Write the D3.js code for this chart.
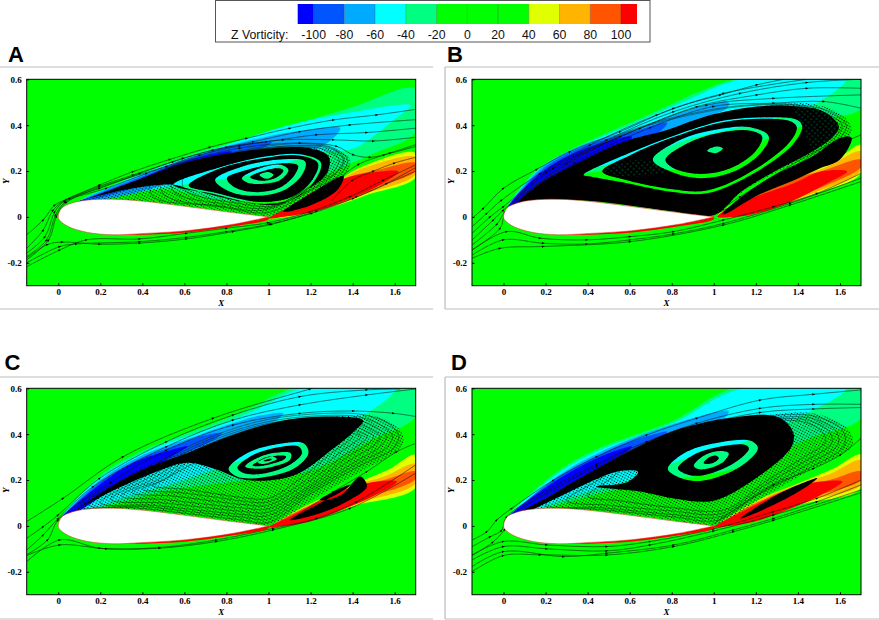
<!DOCTYPE html>
<html>
<head>
<meta charset="utf-8">
<script src="https://cdn.jsdelivr.net/npm/d3@7"></script>
<style>
  html, body { margin: 0; padding: 0; background: #fff; }
  svg { display: block; }
  .tick text { font-family: "Liberation Serif", serif; font-weight: bold; font-size: 9px; }
</style>
</head>
<body>
<svg id="chart" width="879" height="620"></svg>
<script>
// legend
const levels = [-100, -80, -60, -40, -20, 0, 20, 40, 60, 80, 100];
const levelColors = ["#0000ff", "#0055ff", "#00aaff", "#00ffff", "#00ff80", "#00ff00", "#00ff00", "#00ff00", "#e0ff00", "#ffb400", "#ff5500", "#ff0000"];
const xTicks = [0, 0.2, 0.4, 0.6, 0.8, 1, 1.2, 1.4, 1.6];
const yTicks = [-0.2, 0, 0.2, 0.4, 0.6];

// airfoil outline, tail -> upper surface -> nose -> lower surface -> tail
const airfoil = [[1, 0], [.8, .022], [.595, .047], [.405, .068], [.26, .077], [.135, .073], [.063, .06], [.016, .038], [0, 0], [.008, -.016], [.048, -.042], [.135, -.067], [.26, -.078], [.39, -.073], [.61, -.06], [.833, -.032], [1, 0]];
const lowerRed = [[1, 0], [.833, -.03], [.61, -.058], [.39, -.072], [.26, -.078], [.39, -.078], [.61, -.068], [.833, -.041], [1, -.01]];

// panel A
const aTeal = [[.087, .06], [.357, .176], [.675, .285], [.897, .336], [1.151, .408], [1.405, .481], [1.7, .557], [1.7, .372], [1.484, .27], [1.31, .2], [1.1, .1], [.8, .07], [.5, .12]];
const aCyan = [[.087, .06], [.357, .173], [.706, .285], [1.087, .398], [1.389, .455], [1.675, .485], [1.595, .423], [1.405, .299], [1.23, .28], [.95, .19], [.7, .155], [.45, .12]];
const aSky = [[.087, .06], [.357, .169], [.738, .292], [.992, .35], [1.151, .376], [1.341, .387], [1.246, .304], [.992, .278], [.675, .19], [.357, .103]];
const aRoyal = [[.087, .06], [.357, .161], [.675, .27], [.833, .31], [1.016, .326], [.944, .289], [.675, .212], [.357, .125]];
const aBlue = [[.087, .06], [.357, .154], [.595, .241], [.825, .285], [.754, .246], [.516, .183], [.278, .118], [.103, .067]];
const aYellow = [[1.008, -.006], [1.151, .009], [1.31, .045], [1.468, .096], [1.7, .173], [1.7, .278], [1.468, .227], [1.373, .183], [1.31, .132], [1.151, .06]];
const aOrange = [[1.03, 0], [1.151, .012], [1.31, .05], [1.468, .103], [1.7, .185], [1.7, .26], [1.468, .218], [1.373, .178], [1.31, .128], [1.151, .058]];
const aDark = [[1.03, 0], [1.151, .015], [1.31, .055], [1.5, .125], [1.7, .2], [1.7, .235], [1.5, .2], [1.389, .175], [1.31, .125], [1.151, .055]];
const aRed = [[1, -.006], [1.087, .038], [1.23, .118], [1.389, .176], [1.532, .198], [1.619, .198], [1.516, .132], [1.373, .074], [1.214, .023], [1.071, .001]];
const aHull = [[.087, .064], [.516, .198], [.833, .27], [1.087, .304], [1.23, .304], [1.325, .292], [1.389, .249], [1.357, .176], [1.214, .103], [1, .004], [.802, .025], [.595, .049], [.357, .071], [.135, .073]];
const aCore = [
  [[.103, .067], [.357, .154], [.595, .234], [.833, .28], [1.087, .304], [1.198, .299], [1.286, .263], [1.278, .19], [1.183, .118], [1.071, .06], [.992, .052], [.833, .074], [.611, .125], [.548, .14], [.357, .125], [.119, .074]],
  [[.548, .14], [.754, .212], [.992, .264], [1.151, .273], [1.249, .237], [1.222, .161], [1.127, .081], [.96, .057], [.738, .1]],
  [[.62, .137], [.754, .206], [.992, .258], [1.151, .267], [1.235, .234], [1.208, .161], [1.116, .089], [.96, .065], [.738, .107]],
  [[.746, .161], [.865, .217], [1.071, .251], [1.175, .241], [1.159, .183], [1.071, .115], [.944, .092], [.817, .11]],
  [[.802, .169], [.897, .205], [1.071, .234], [1.14, .224], [1.124, .183], [1.052, .127], [.944, .108], [.841, .128]],
  [[.873, .169], [.96, .212], [1.056, .227], [1.095, .205], [1.056, .161], [.968, .144], [.897, .15]],
  [[.913, .173], [.968, .198], [1.048, .212], [1.071, .202], [1.04, .173], [.968, .158]],
  [[.957, .183], [1, .196], [1.024, .183], [.992, .166]]
];
const aWake = [[[1.071, .023], [1.198, .1], [1.357, .178], [1.33, .12], [1.198, .05]]];
const aFuzz = [];
const aLoops = [
  [[.5, .1], [.8, .04], [1, .02], [1.2, .115], [1.345, .19], [1.375, .25], [1.31, .3], [1.15, .32], [.85, .285], [.5, .19]],
  [[.55, .11], [.8, .055], [1, .04], [1.2, .13], [1.33, .2], [1.355, .25], [1.3, .295], [1.15, .31], [.85, .28], [.55, .185]],
  [[.6, .12], [.85, .06], [1.03, .05], [1.21, .14], [1.31, .2], [1.335, .25], [1.28, .29], [1.13, .305], [.85, .275], [.6, .18]],
  [[.45, .09], [.75, .05], [.98, .03], [1.18, .11], [1.32, .19], [1.36, .25], [1.3, .3], [1.1, .31], [.8, .27], [.45, .18]]
];
const aLines = [
  [[-.15, -.078], [-.071, -.013], [-.016, .052], [.056, .081], [.198, .14], [.357, .198], [.532, .251], [.722, .304], [.897, .343], [1.103, .387], [1.31, .423], [1.516, .445], [1.7, .469]],
  [[-.15, -.137], [-.071, -.057], [-.024, .03], [.04, .077], [.198, .134], [.357, .183], [.548, .241], [.738, .292], [.929, .328], [1.151, .372], [1.389, .401], [1.7, .424]],
  [[-.15, -.158], [-.063, -.086], [-.016, .023], [.03, .07], [.198, .125], [.389, .19], [.595, .256], [.802, .304], [.992, .328], [1.23, .358], [1.468, .368], [1.7, .387]],
  [[-.15, -.173], [-.055, -.1], [-.012, .01], [.035, .066], [.23, .125], [.421, .19], [.675, .27], [.865, .31], [1.071, .336], [1.31, .336], [1.5, .331], [1.7, .347]],
  [[-.15, -.187], [-.045, -.1], [-.008, .004], [.04, .064], [.516, .22], [.865, .3], [1.151, .322], [1.325, .307], [1.405, .27], [1.484, .26], [1.579, .278], [1.7, .307]],
  [[-.15, -.217], [.008, -.144], [.135, -.1], [.389, -.096], [.611, -.071], [.802, -.049], [1, -.025], [1.198, .023], [1.389, .089], [1.548, .161], [1.7, .227]],
  [[-.15, -.2], [.008, -.129], [.087, -.118], [.389, -.108], [.611, -.089], [.802, -.064], [1.008, -.031], [1.206, .016], [1.405, .081], [1.563, .147], [1.7, .215]],
  [[-.15, -.18], [-.05, -.12], [.02, -.11], [.198, -.119], [.389, -.114], [.611, -.096], [.833, -.064], [1.016, -.032], [1.23, .026], [1.42, .088], [1.7, .2]],
  [[1.25, .07], [1.33, .16], [1.43, .23], [1.55, .27], [1.7, .315]],
  [[1.3, .07], [1.4, .16], [1.5, .2], [1.6, .235], [1.7, .26]]
];

// panel B
const bTeal = [[.016, .03], [.159, .205], [.333, .3], [.651, .43], [.968, .56], [1.111, .6], [1.7, .6], [1.7, .474], [1.5, .42], [1.25, .34], [1, .24], [.8, .205], [.65, .21], [.4, .19], [.1, .05]];
const bCyan = [[.016, .03], [.159, .2], [.333, .292], [.651, .42], [.9, .52], [1.13, .6], [1.627, .6], [1.444, .474], [1.3, .43], [1.1, .385], [.85, .33], [.7, .27], [.38, .2], [.15, .1]];
const bSky = [[.016, .03], [.175, .21], [.365, .31], [.651, .39], [.85, .455], [1.07, .5], [1.063, .474], [.9, .42], [.6, .3], [.3, .2]];
const bRoyal = [[.016, .03], [.175, .2], [.365, .3], [.611, .37], [.778, .41], [.74, .37], [.571, .31], [.365, .22], [.175, .13]];
const bBlue = [[.016, .03], [.175, .19], [.365, .29], [.611, .35], [.571, .31], [.365, .22], [.175, .13], [.03, .02]];
const bYellow = [[1.016, .001], [1.206, .118], [1.381, .176], [1.571, .241], [1.7, .314], [1.7, .19], [1.492, .103], [1.286, .045], [1.048, -.006]];
const bOrange = [[1.02, .001], [1.206, .115], [1.381, .173], [1.524, .212], [1.7, .285], [1.7, .202], [1.492, .11], [1.286, .05], [1.048, -.005]];
const bDark = [[1.02, .001], [1.206, .112], [1.381, .168], [1.508, .198], [1.7, .249], [1.7, .218], [1.5, .125], [1.286, .055], [1.048, -.004]];
const bRed = [[1.016, .001], [1.159, .074], [1.381, .147], [1.508, .198], [1.635, .198], [1.54, .147], [1.349, .06], [1.175, .009], [1.048, -.003]];
const bHull = [[.016, .023], [.175, .147], [.365, .241], [.571, .328], [.778, .379], [.968, .44], [1.206, .481], [1.444, .496], [1.587, .459], [1.654, .394], [1.643, .35], [1.492, .278], [1.286, .19], [1.127, .103], [1, .004], [.8, .025], [.6, .05], [.4, .07], [.2, .075], [.06, .06]];
const bCore = [
  [[.016, .023], [.175, .147], [.365, .241], [.571, .328], [.778, .379], [.968, .44], [1.206, .481], [1.381, .484], [1.524, .459], [1.595, .394], [1.563, .345], [1.444, .272], [1.286, .197], [1.127, .108], [1, .008], [.8, .025], [.6, .05], [.4, .07], [.2, .073], [.06, .06]],
  [[.381, .183], [.587, .274], [.81, .354], [1.048, .42], [1.254, .435], [1.397, .423], [1.421, .394], [1.381, .321], [1.206, .198], [.968, .103], [.794, .11], [.587, .147], [.413, .176]],
  [[.47, .198], [.6, .268], [.81, .348], [1.048, .414], [1.254, .428], [1.37, .415], [1.395, .39], [1.36, .325], [1.2, .21], [.968, .115], [.794, .122], [.587, .16]],
  [[.71, .249], [.841, .336], [1, .379], [1.175, .391], [1.262, .35], [1.222, .278], [1.095, .198], [.937, .169], [.794, .198]],
  [[.77, .249], [.873, .32], [1.016, .365], [1.175, .376], [1.23, .35], [1.198, .285], [1.079, .212], [.937, .187], [.81, .212]],
  [[.968, .288], [1.008, .307], [1.043, .299], [1.008, .278]]
];
const bWake = [[[1.04, .012], [1.127, .085], [1.286, .182], [1.476, .268], [1.603, .345], [1.655, .345], [1.6, .25], [1.5, .21], [1.381, .16], [1.2, .09], [1.06, .015]]];
const bFuzz = [
  [[.47, .2], [.6, .245], [.72, .24], [.78, .2], [.6, .175]],
  [[1.38, .484], [1.52, .47], [1.6, .4], [1.56, .34], [1.47, .3], [1.42, .4]]
];
const bLoops = [
  [[.06, .07], [.4, .08], [.8, .04], [1.02, .02], [1.2, .13], [1.45, .27], [1.6, .345], [1.63, .4], [1.55, .46], [1.38, .49], [1.2, .49], [.97, .465], [.57, .365], [.2, .17]],
  [[.06, .07], [.4, .08], [.8, .04], [1.02, .02], [1.2, .12], [1.45, .26], [1.58, .35], [1.61, .4], [1.53, .455], [1.38, .488], [1.2, .487], [.97, .46], [.57, .36], [.2, .165]]
];
const bLines = [
  [[-.149, -.006], [-.095, .038], [0, .125], [.159, .208], [.317, .285], [.556, .372], [.81, .474], [1.032, .532], [1.206, .576], [1.333, .6]],
  [[-.149, -.042], [-.079, .016], [-.008, .074], [.175, .19], [.413, .314], [.73, .445], [1.048, .539], [1.444, .6]],
  [[-.149, -.071], [-.063, .001], [0, .045], [.206, .198], [.492, .336], [.81, .459], [1.127, .539], [1.444, .586], [1.7, .6]],
  [[-.149, -.1], [-.048, -.013], [0, .03], [.238, .212], [.556, .35], [.921, .481], [1.206, .532], [1.444, .561], [1.7, .561]],
  [[-.149, -.122], [-.03, -.03], [.008, .023], [.302, .234], [.651, .387], [.968, .488], [1.286, .517], [1.7, .532]],
  [[-.149, -.144], [-.016, -.049], [.012, .022], [.34, .235], [.7, .39], [1, .482], [1.286, .496], [1.524, .503], [1.7, .474]],
  [[-.149, -.144], [.016, -.064], [.175, -.093], [.397, -.1], [.603, -.086], [.81, -.064], [1.048, -.013], [1.286, .045], [1.492, .103], [1.7, .19]],
  [[-.149, -.166], [0, -.1], [.19, -.115], [.397, -.118], [.603, -.1], [.81, -.074], [1.048, -.028], [1.365, .06], [1.7, .169]],
  [[-.149, -.18], [-.016, -.137], [.19, -.129], [.603, -.108], [1.048, -.035], [1.365, .052], [1.7, .154]],
  [[1, .009], [1.127, .089], [1.317, .19], [1.54, .292], [1.7, .358]]
];

// panel C
const cTeal = [[.016, .033], [.2, .22], [.405, .33], [.738, .445], [.913, .513], [1.119, .6], [1.7, .6], [1.7, .477], [1.5, .38], [1.2, .24], [.9, .2], [.5, .15], [.1, .05]];
const cCyan = [[.016, .033], [.2, .21], [.405, .32], [.738, .43], [.95, .51], [1.16, .6], [1.603, .6], [1.468, .491], [1.31, .43], [1.1, .34], [.85, .28], [.6, .2], [.3, .12]];
const cSky = [[.016, .033], [.2, .2], [.405, .31], [.627, .382], [.77, .429], [.96, .481], [1.071, .491], [1.04, .462], [.8, .38], [.55, .29], [.2, .14]];
const cRoyal = [[.016, .033], [.2, .19], [.405, .3], [.563, .353], [.675, .39], [.778, .404], [.738, .375], [.563, .3], [.2, .13]];
const cBlue = [[.016, .033], [.198, .18], [.357, .275], [.532, .33], [.614, .346], [.516, .29], [.278, .17], [.087, .06]];
const cYellow = [[1.02, 0], [1.23, .04], [1.42, .09], [1.7, .167], [1.7, .31], [1.57, .245], [1.4, .18], [1.25, .12], [1.1, .05]];
const cOrange = [[1.02, 0], [1.23, .045], [1.42, .1], [1.7, .186], [1.7, .27], [1.55, .215], [1.4, .175], [1.25, .115], [1.1, .047]];
const cDark = [[1.02, 0], [1.23, .05], [1.42, .11], [1.7, .205], [1.7, .237], [1.55, .2], [1.4, .17], [1.25, .112], [1.1, .045]];
const cRed = [[1, -.006], [1.1, .04], [1.25, .11], [1.4, .17], [1.53, .195], [1.611, .193], [1.5, .13], [1.35, .07], [1.2, .02], [1.06, -.002]];
const cHull = [[.008, .026], [.198, .15], [.389, .25], [.611, .325], [.833, .397], [1.071, .46], [1.31, .477], [1.516, .477], [1.619, .426], [1.643, .368], [1.611, .324], [1.468, .251], [1.246, .135], [1, .004], [.8, .025], [.6, .05], [.4, .07], [.2, .075], [.06, .06]];
const cCore = [
  [[.008, .02], [.198, .14], [.389, .24], [.611, .317], [.833, .397], [1.071, .46], [1.31, .477], [1.45, .46], [1.405, .411], [1.31, .339], [1.119, .22], [.897, .2], [.738, .25], [.611, .275], [.437, .225], [.23, .14], [.04, .045]],
  [[.81, .249], [.897, .317], [1.04, .356], [1.167, .36], [1.19, .317], [1.119, .249], [.944, .208], [.849, .215]],
  [[.852, .254], [.929, .31], [1.048, .343], [1.143, .346], [1.159, .317], [1.095, .263], [.952, .225], [.873, .234]],
  [[.889, .259], [.96, .302], [1.056, .321], [1.106, .317], [1.103, .288], [1.024, .259], [.944, .249]],
  [[.924, .263], [.976, .292], [1.056, .307], [1.084, .302], [1.071, .288], [1.008, .269], [.952, .26]],
  [[.948, .278], [.984, .298], [1.024, .302], [1.04, .292], [1.008, .278], [.968, .27]],
  [[.976, .283], [1, .292], [1.016, .291], [1, .283]]
];
const cWake = [
  [[1.103, .026], [1.23, .092], [1.373, .164], [1.437, .215], [1.468, .172], [1.373, .106], [1.246, .055]],
  [[1.243, .113], [1.31, .15], [1.389, .179], [1.357, .142], [1.294, .116]]
];
const cFuzz = [];
const cLoops = [
  [[.1, .085], [.35, .08], [.65, .05], [.88, .025], [1, .015], [1.2, .14], [1.45, .27], [1.59, .335], [1.62, .39], [1.58, .44], [1.45, .485], [1.2, .487], [.95, .455], [.65, .36], [.35, .215]],
  [[.15, .09], [.4, .085], [.65, .06], [.88, .038], [1, .03], [1.2, .15], [1.44, .28], [1.56, .34], [1.59, .39], [1.55, .43], [1.43, .475], [1.2, .478], [.95, .445], [.65, .35], [.38, .215]],
  [[.2, .1], [.45, .09], [.65, .07], [.88, .05], [1, .045], [1.2, .16], [1.43, .29], [1.53, .345], [1.56, .39], [1.52, .425], [1.41, .465], [1.2, .47], [.95, .437], [.65, .34], [.4, .21]],
  [[.25, .115], [.5, .1], [.7, .08], [.88, .063], [1, .06], [1.2, .17], [1.41, .3], [1.5, .35], [1.53, .39], [1.49, .42], [1.39, .455], [1.2, .46], [.95, .43], [.65, .33], [.42, .205]],
  [[.3, .13], [.5, .115], [.7, .095], [.88, .078], [1, .075], [1.2, .18], [1.39, .31], [1.47, .355], [1.5, .39], [1.46, .415], [1.37, .445], [1.2, .45], [.95, .42], [.65, .32], [.44, .2]],
  [[.35, .145], [.55, .13], [.72, .11], [.88, .093], [1, .09], [1.18, .185], [1.37, .315], [1.44, .36], [1.47, .39], [1.43, .41], [1.35, .435], [1.2, .44], [.95, .41], [.65, .31], [.47, .2]],
  [[.4, .16], [.58, .145], [.75, .125], [.88, .108], [1, .105], [1.17, .195], [1.34, .32], [1.41, .365], [1.44, .39], [1.4, .405], [1.33, .425], [1.2, .43], [.95, .4], [.65, .3], [.5, .2]],
  [[.45, .175], [.6, .16], [.75, .14], [.88, .123], [1, .12], [1.15, .205], [1.31, .325], [1.38, .37], [1.4, .39], [1.37, .4], [1.3, .415], [1.2, .42], [.95, .39], [.68, .29], [.52, .21]]
];
const cLines = [
  [[-.15, .019], [.024, .121], [.309, .302], [.738, .47], [1.198, .597], [1.4, .65]],
  [[-.15, -.054], [-.071, -.003], [0, .048], [.198, .208], [.516, .368], [.833, .484], [1.151, .564], [1.468, .593], [1.627, .597]],
  [[-.15, -.105], [-.071, -.039], [0, .033], [.167, .172], [.516, .346], [.833, .462], [1.151, .528], [1.468, .571], [1.7, .597]],
  [[-.15, -.126], [-.05, -.06], [0, .026], [.25, .19], [.516, .331], [.833, .44], [1.151, .491], [1.405, .501], [1.595, .491], [1.7, .477]],
  [[-.15, -.156], [.008, -.061], [.198, -.097], [.484, -.094], [.754, -.061], [1.024, -.01], [1.23, .033], [1.421, .106], [1.7, .266]],
  [[-.15, -.129], [.008, -.083], [.23, -.1], [.484, -.097], [.754, -.068], [1.024, -.017], [1.389, .077], [1.7, .23]],
  [[1.103, .026], [1.31, .15], [1.468, .237], [1.611, .324], [1.7, .36]]
];

// panel D
const dTeal = [[.016, .03], [.238, .225], [.444, .335], [.81, .46], [1.095, .6], [1.7, .6], [1.7, .47], [1.45, .38], [1.1, .25], [.8, .2], [.5, .15], [.1, .05]];
const dCyan = [[.016, .03], [.238, .215], [.444, .325], [.81, .45], [1.12, .595], [1.627, .597], [1.444, .491], [1.3, .43], [1.1, .35], [.85, .29], [.6, .2], [.3, .12]];
const dSky = [[.016, .03], [.238, .205], [.444, .315], [.794, .44], [1.071, .5], [1.05, .47], [.8, .39], [.55, .28], [.2, .14]];
const dRoyal = [[.016, .03], [.238, .2], [.444, .305], [.611, .37], [.778, .41], [.74, .38], [.55, .29], [.2, .13]];
const dBlue = [[.016, .03], [.238, .19], [.444, .295], [.611, .346], [.55, .3], [.4, .22], [.2, .12], [.05, .03]];
const dYellow = [[1.02, 0], [1.23, .045], [1.42, .095], [1.7, .165], [1.7, .31], [1.57, .25], [1.4, .185], [1.25, .13], [1.1, .055]];
const dOrange = [[1.02, 0], [1.23, .05], [1.42, .105], [1.7, .18], [1.7, .285], [1.55, .225], [1.4, .18], [1.25, .125], [1.1, .052]];
const dDark = [[1.02, 0], [1.23, .055], [1.42, .115], [1.7, .2], [1.7, .237], [1.55, .2], [1.4, .175], [1.25, .12], [1.1, .05]];
const dRed = [[1, -.006], [1.1, .045], [1.25, .115], [1.4, .175], [1.53, .195], [1.611, .193], [1.5, .13], [1.35, .07], [1.2, .02], [1.06, -.002]];
const dHull = [[.016, .026], [.238, .14], [.444, .25], [.651, .35], [.81, .415], [1.048, .467], [1.254, .484], [1.476, .491], [1.635, .426], [1.659, .353], [1.444, .237], [1.254, .135], [1, .004], [.8, .025], [.6, .05], [.4, .07], [.2, .075], [.06, .06]];
const dCore = [
  [[.016, .026], [.238, .14], [.444, .25], [.651, .35], [.81, .415], [.95, .45], [1.048, .467], [1.254, .484], [1.333, .462], [1.381, .397], [1.365, .339], [1.222, .222], [1, .11], [.81, .12], [.651, .15], [.444, .172], [.587, .19], [.64, .235], [.56, .24], [.444, .205], [.238, .115], [.05, .035]],
  [[.781, .249], [.873, .324], [1.032, .365], [1.175, .371], [1.21, .339], [1.127, .259], [.937, .196], [.825, .215]],
  [[.829, .251], [.905, .31], [1.032, .346], [1.151, .353], [1.167, .336], [1.095, .273], [.937, .219], [.857, .23]],
  [[.905, .263], [.96, .31], [1.032, .327], [1.071, .317], [1.048, .281], [.968, .249], [.921, .249]],
  [[.952, .273], [.976, .298], [1.008, .307], [1.024, .295], [.992, .273]]
];
const dWake = [
  [[1.127, .033], [1.286, .128], [1.365, .164], [1.492, .208], [1.429, .164], [1.286, .092]]
];
const dFuzz = [
  [[1.32, .47], [1.47, .495], [1.55, .43], [1.5, .32], [1.38, .3], [1.37, .4]]
];
const dLoops = [
  [[.1, .08], [.4, .075], [.8, .04], [1.02, .025], [1.2, .13], [1.45, .25], [1.62, .35], [1.61, .42], [1.47, .48], [1.25, .48], [1.05, .46], [.7, .37], [.35, .2]],
  [[.2, .09], [.45, .08], [.8, .05], [1.03, .04], [1.22, .15], [1.44, .265], [1.59, .355], [1.58, .415], [1.46, .47], [1.25, .47], [1.05, .45], [.7, .36], [.4, .2]],
  [[.3, .11], [.5, .09], [.8, .065], [1.04, .055], [1.23, .17], [1.43, .28], [1.56, .36], [1.55, .41], [1.45, .46], [1.25, .465], [1.05, .445], [.7, .35], [.45, .2]],
  [[.4, .13], [.55, .11], [.8, .08], [1.05, .07], [1.24, .19], [1.42, .295], [1.53, .365], [1.52, .405], [1.44, .45], [1.25, .46], [1.05, .44], [.7, .34], [.5, .2]]
];
const dLines = [
  [[-.149, -.061], [-.079, -.025], [-.032, .026], [.04, .077], [.238, .2], [.444, .302], [.683, .397], [.921, .47], [1.222, .549], [1.476, .574], [1.7, .593]],
  [[-.149, -.09], [-.063, -.047], [-.01, -.02], [.016, .04], [.444, .27], [.683, .368], [.921, .448], [1.222, .513], [1.476, .53], [1.7, .53]],
  [[-.15, -.13], [-.05, -.07], [.005, -.015], [.02, .03], [.444, .26], [.683, .36], [.921, .435], [1.222, .495], [1.476, .51], [1.7, .516]],
  [[-.149, -.126], [0, -.068], [.206, -.083], [.492, -.09], [.698, -.068], [1, -.013], [1.286, .0625], [1.492, .121], [1.7, .2]],
  [[-.149, -.148], [0, -.09], [.206, -.1], [.492, -.109], [.698, -.083], [1, -.022], [1.286, .048], [1.492, .106], [1.7, .179]],
  [[-.149, -.177], [0, -.112], [.286, -.134], [.492, -.119], [.81, -.083], [1.095, -.017], [1.286, .033], [1.7, .157]],
  [[-.149, -.199], [0, -.129], [.175, -.126], [.492, -.127], [.81, -.09], [1.095, -.025], [1.286, .025], [1.7, .145]],
  [[1, .009], [1.286, .179], [1.476, .251], [1.603, .31], [1.7, .382]]
];

const panels = [
  { name: "A", left: 26.7, top: 79.3, teal: aTeal, cyan: aCyan, sky: aSky, royal: aRoyal, blue: aBlue, yellow: aYellow, orange: aOrange, dark: aDark, red: aRed, hull: aHull, core: aCore, wake: aWake, fuzz: aFuzz, loops: aLoops, lines: aLines },
  { name: "B", left: 472, top: 79.3, teal: bTeal, cyan: bCyan, sky: bSky, royal: bRoyal, blue: bBlue, yellow: bYellow, orange: bOrange, dark: bDark, red: bRed, hull: bHull, core: bCore, wake: bWake, fuzz: bFuzz, loops: bLoops, lines: bLines },
  { name: "C", left: 26.7, top: 388.3, teal: cTeal, cyan: cCyan, sky: cSky, royal: cRoyal, blue: cBlue, yellow: cYellow, orange: cOrange, dark: cDark, red: cRed, hull: cHull, core: cCore, wake: cWake, fuzz: cFuzz, loops: cLoops, lines: cLines },
  { name: "D", left: 472, top: 388.3, teal: dTeal, cyan: dCyan, sky: dSky, royal: dRoyal, blue: dBlue, yellow: dYellow, orange: dOrange, dark: dDark, red: dRed, hull: dHull, core: dCore, wake: dWake, fuzz: dFuzz, loops: dLoops, lines: dLines }
];

const plotW = 389, plotH = 206.4;
const svg = d3.select("#chart");

// patterns, filters, arrowhead
const defs = svg.append("defs");
defs.append("filter").attr("id", "soft").append("feGaussianBlur").attr("stdDeviation", 0.28);
const stipple = defs.append("pattern").attr("id", "stipple").attr("width", 2.6).attr("height", 2.6)
  .attr("patternUnits", "userSpaceOnUse").attr("patternTransform", "rotate(28)");
stipple.append("circle").attr("cx", 1.3).attr("cy", 1.3).attr("r", 0.72).attr("fill", "#000");
const specks = defs.append("pattern").attr("id", "specks").attr("width", 4).attr("height", 4)
  .attr("patternUnits", "userSpaceOnUse").attr("patternTransform", "rotate(40)");
specks.append("circle").attr("cx", 2).attr("cy", 2).attr("r", 0.55).attr("fill", "#00c070");
defs.append("marker").attr("id", "arrow").attr("markerUnits", "userSpaceOnUse")
  .attr("markerWidth", 4).attr("markerHeight", 4).attr("refX", 2).attr("refY", 2).attr("orient", "auto")
  .append("path").attr("d", "M0.4,0.9 L3.2,2 L0.4,3.1 Z").attr("fill", "#000");

// legend box
const legendX = d3.scaleLinear().domain([-110.4, 110.4]).range([297.7, 637]);
const legend = svg.append("g");
legend.append("rect").attr("x", 215.5).attr("y", 0.5).attr("width", 434.5).attr("height", 41.5)
  .attr("fill", "#fff").attr("stroke", "#555").attr("stroke-width", 1);
const legendEdges = [-110.4].concat(levels, [110.4]);
legend.selectAll(".swatch").data(levelColors).enter().append("rect")
  .attr("class", "swatch")
  .attr("x", (d, i) => legendX(legendEdges[i]))
  .attr("y", 4)
  .attr("width", (d, i) => legendX(legendEdges[i + 1]) - legendX(legendEdges[i]))
  .attr("height", 20)
  .attr("fill", d => d);
legend.selectAll(".edge").data(levels).enter().append("line")
  .attr("x1", d => legendX(d)).attr("x2", d => legendX(d)).attr("y1", 4).attr("y2", 24)
  .attr("stroke", "#000").attr("stroke-opacity", 0.45).attr("stroke-width", 0.5);
legend.selectAll(".lab").data(levels).enter().append("text")
  .attr("x", d => legendX(d)).attr("y", 39).attr("text-anchor", "middle")
  .attr("font-family", "Liberation Sans").attr("font-size", 12.3).attr("fill", "#111")
  .text(d => d);
legend.append("text").attr("x", 231).attr("y", 39)
  .attr("font-family", "Liberation Sans").attr("font-size", 12.3).attr("fill", "#111")
  .text("Z Vorticity:");

// grey panel frames
svg.append("g").attr("stroke", "#bbb").attr("stroke-width", 1.2).selectAll("line")
  .data([[0, 67, 433, 67], [0, 309, 433, 309], [445, 67, 879, 67], [445, 309, 879, 309], [445, 67, 445, 309],
         [0, 377, 433, 377], [0, 619, 433, 619], [445, 377, 879, 377], [445, 619, 879, 619], [445, 377, 445, 619]])
  .enter().append("line")
  .attr("x1", d => d[0]).attr("y1", d => d[1]).attr("x2", d => d[2]).attr("y2", d => d[3]);

function drawPanel(p) {
  const x = d3.scaleLinear().domain([-0.15, 1.7]).range([p.left, p.left + plotW]);
  const y = d3.scaleLinear().domain([-0.3, 0.6]).range([p.top + plotH, p.top]);
  const closed = d3.line().x(d => x(d[0])).y(d => y(d[1])).curve(d3.curveCatmullRomClosed.alpha(0.5));
  const open = d3.line().x(d => x(d[0])).y(d => y(d[1])).curve(d3.curveCatmullRom.alpha(0.5));

  const clipId = "clip" + p.name;
  defs.append("clipPath").attr("id", clipId).append("rect")
    .attr("x", p.left).attr("y", p.top).attr("width", plotW).attr("height", plotH);

  const g = svg.append("g").attr("clip-path", "url(#" + clipId + ")").append("g").attr("filter", "url(#soft)");
  g.append("rect").attr("x", p.left).attr("y", p.top).attr("width", plotW).attr("height", plotH).attr("fill", "#00ff00");

  const bands = [[p.teal, "#00ff80"], [p.cyan, "#00ffff"], [p.sky, "#00aaff"], [p.royal, "#0055ff"], [p.blue, "#0000ff"],
                 [p.yellow, "#e0ff00"], [p.orange, "#ffb400"], [p.dark, "#ff5500"], [p.red, "#ff0000"]];
  g.selectAll(".band").data(bands).enter().append("path")
    .attr("d", d => closed(d[0])).attr("fill", d => d[1]);

  // stippled halo of the vortex (rings left clear), then its loose loops, then the dense core with the ring gaps
  const ringless = [p.hull].concat(p.core.slice(1));
  g.append("path").attr("d", ringless.map(c => closed(c)).join(" ")).attr("fill", "url(#stipple)").attr("fill-rule", "evenodd");
  g.selectAll(".loop").data(p.loops).enter().append("path")
    .attr("d", d => closed(d)).attr("fill", "none").attr("stroke", "#0a2a10").attr("stroke-width", 0.5);
  g.append("path").attr("d", p.core.map(c => closed(c)).join(" ")).attr("fill", "#000").attr("fill-rule", "evenodd");
  g.append("path").attr("d", p.wake.map(c => closed(c)).join(" ")).attr("fill", "#000").attr("fill-rule", "evenodd");
  g.selectAll(".fuzz").data(p.fuzz).enter().append("path").attr("d", d => closed(d)).attr("fill", "url(#specks)");

  g.selectAll(".stream").data(p.lines).enter().append("path")
    .attr("d", d => open(d)).attr("fill", "none").attr("stroke", "#111").attr("stroke-width", 0.55)
    .attr("marker-mid", "url(#arrow)");

  g.append("path").attr("d", closed(lowerRed)).attr("fill", "#ff0000");
  g.append("path").attr("d", open(airfoil) + "Z").attr("fill", "#fff").attr("stroke", "#e03020").attr("stroke-width", 0.5);

  // frame and axes
  svg.append("rect").attr("x", p.left).attr("y", p.top).attr("width", plotW).attr("height", plotH)
    .attr("fill", "none").attr("stroke", "#000").attr("stroke-width", 1);
  svg.append("g").attr("transform", "translate(0," + (p.top + plotH) + ")")
    .call(d3.axisBottom(x).tickValues(xTicks).tickSizeInner(-2.5).tickSizeOuter(0).tickPadding(3).tickFormat(d => d))
    .call(a => a.select(".domain").remove());
  svg.append("g").attr("transform", "translate(" + p.left + ",0)")
    .call(d3.axisLeft(y).tickValues(yTicks).tickSizeInner(-2.5).tickSizeOuter(0).tickPadding(5).tickFormat(d => d))
    .call(a => a.select(".domain").remove());
  svg.append("text").attr("x", x(0.775)).attr("y", p.top + plotH + 20.5).attr("text-anchor", "middle")
    .attr("font-family", "Liberation Serif").attr("font-style", "italic").attr("font-weight", "bold").attr("font-size", 9).text("X");
  svg.append("text").attr("transform", "translate(" + (p.left - 18) + "," + y(0.155) + ") rotate(-90)").attr("text-anchor", "middle")
    .attr("font-family", "Liberation Serif").attr("font-style", "italic").attr("font-weight", "bold").attr("font-size", 9).text("Y");

  svg.append("text").attr("x", p.left < 100 ? (p.name === "A" ? 8 : 4.5) : (p.name === "B" ? 447 : 451))
    .attr("y", p.top < 100 ? 62 : 370)
    .attr("font-family", "Liberation Sans").attr("font-weight", "bold").attr("font-size", 22).attr("fill", "#000").text(p.name);
}
panels.forEach(drawPanel);
</script>
</body>
</html>
